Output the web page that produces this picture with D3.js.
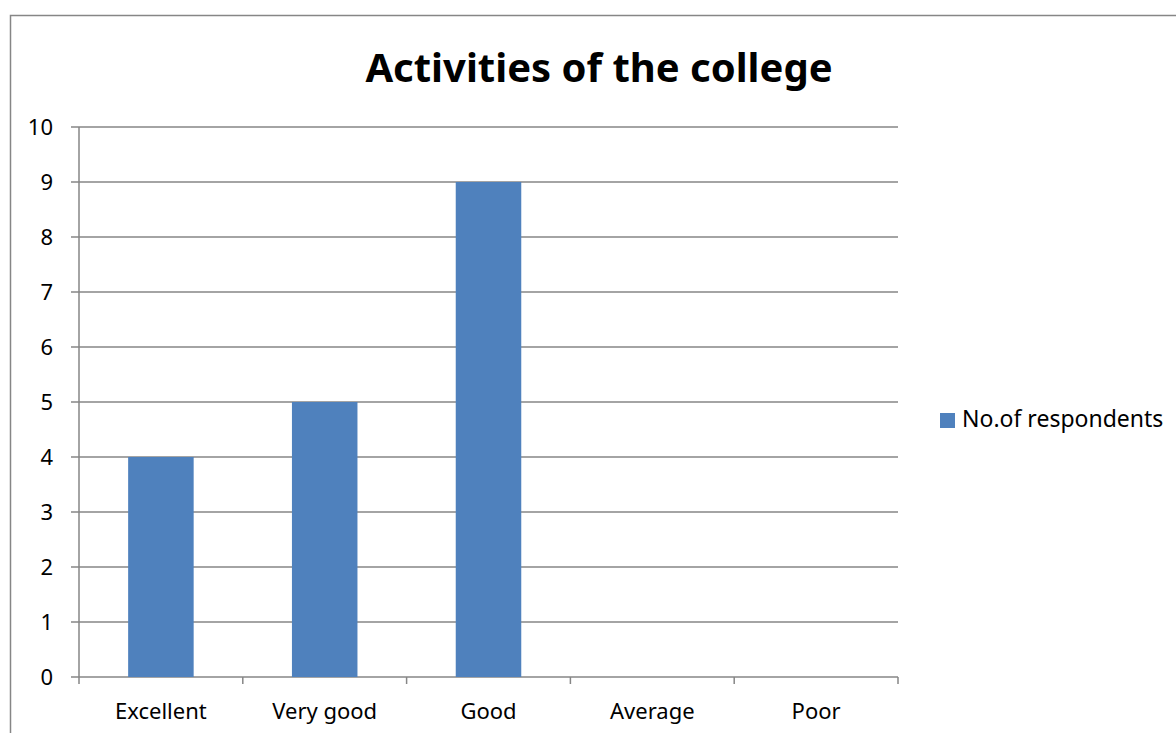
<!DOCTYPE html>
<html><head><meta charset="utf-8">
<script src="https://cdn.jsdelivr.net/npm/d3@7"></script>
<style>body{margin:0;background:#fff}svg{display:block}text{font-family:"Noto Sans",sans-serif}</style>
</head><body>
<svg id="c" width="1176" height="733"></svg>
<script>
const categories = ["Excellent","Very good","Good","Average","Poor"];
const values = [4,5,9,0,0];
const yTicks = [0,1,2,3,4,5,6,7,8,9,10];
const seriesName = "No.of respondents";
const title = "Activities of the college";

const svg = d3.select("#c");
svg.append("rect").attr("x",10.5).attr("y",15.5).attr("width",1200).attr("height",800)
  .attr("fill","#fff").attr("stroke","#868686").attr("stroke-width",1.5);

const L=79,R=898,T=127,B=677;
const x=d3.scaleBand().domain(categories).range([L,R]).paddingInner(0.6).paddingOuter(0.3);
const y=d3.scaleLinear().domain([0,10]).range([B,T]);
const gc="#868686";

svg.append("g").selectAll("line").data(yTicks).join("line")
  .attr("x1",L-8).attr("x2",R).attr("y1",d=>y(d)).attr("y2",d=>y(d))
  .attr("stroke",gc).attr("stroke-width",1.5);

svg.append("g").selectAll("rect").data(values).join("rect")
  .attr("x",(d,i)=>x(categories[i])).attr("width",x.bandwidth())
  .attr("y",d=>y(d)).attr("height",d=>B-y(d)).attr("fill","#4F81BD");

svg.append("line").attr("x1",L).attr("x2",L).attr("y1",T).attr("y2",B).attr("stroke",gc).attr("stroke-width",1.5);

const xs=d3.scaleLinear().domain([0,5]).range([L,R]);
svg.append("g").selectAll("line").data(d3.range(6)).join("line")
  .attr("x1",d=>xs(d)).attr("x2",d=>xs(d)).attr("y1",B).attr("y2",B+7)
  .attr("stroke",gc).attr("stroke-width",1.5);

svg.append("g").selectAll("text").data(yTicks).join("text")
  .attr("x",53).attr("y",d=>y(d)).attr("dy","0.36em").attr("text-anchor","end")
  .attr("font-size",22).attr("fill","#000").text(d=>d);

svg.append("g").selectAll("text").data(categories).join("text")
  .attr("x",d=>x(d)+x.bandwidth()/2).attr("y",719).attr("text-anchor","middle")
  .attr("font-size",22).attr("fill","#000").text(d=>d);

svg.append("text").attr("x",599).attr("y",82).attr("text-anchor","middle")
  .attr("font-size",40).attr("font-weight","bold").attr("fill","#000").text(title);

svg.append("rect").attr("x",940).attr("y",413).attr("width",15).attr("height",15).attr("fill","#4F81BD");
svg.append("text").attr("x",962).attr("y",427).attr("font-size",23).attr("fill","#000").text(seriesName);
</script>
</body></html>
